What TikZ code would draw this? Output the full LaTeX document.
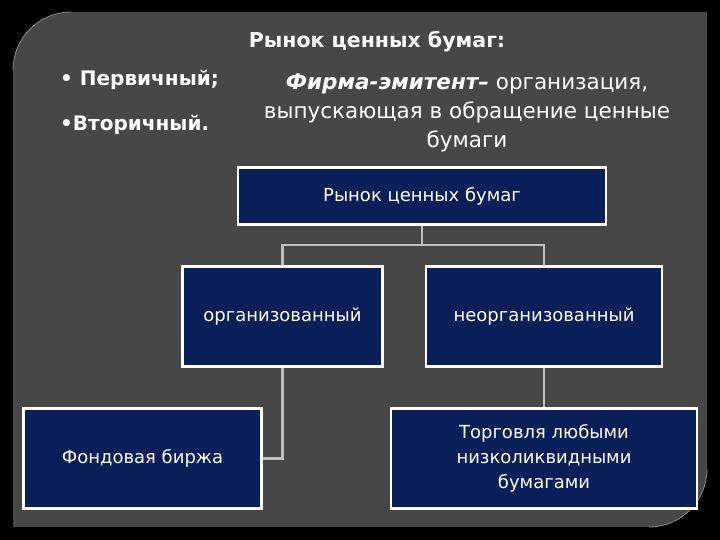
\documentclass[tikz,border=0pt]{standalone}
\usepackage{fontspec}
\setmainfont{DejaVu Sans}
\definecolor{panelgrey}{HTML}{474747}
\definecolor{navy}{HTML}{0A1E5A}
\definecolor{linkgrey}{HTML}{C0C0C0}
\definecolor{edgegrey}{HTML}{8A8A8A}

\begin{document}
\begin{tikzpicture}[
  x=1pt, y=1pt,
  box/.style={draw=white, line width=2.5pt, fill=navy, text=white, align=center, inner sep=0pt, font=\fontsize{18}{25}\selectfont},
  lab/.style={text=white, align=center, inner sep=0pt},
  link/.style={draw=linkgrey, line width=2.5pt}
]
\fill[black] (0,0) rectangle (720,540);
\fill[panelgrey] (13,13) -- (13,470) arc[start angle=180, end angle=90, radius=58] -- (707,528) -- (707,71) arc[start angle=0, end angle=-90, radius=58] -- cycle;
\draw[edgegrey, line width=0.8pt] (13,470) arc[start angle=180, end angle=90, radius=58];
\draw[edgegrey, line width=0.8pt] (707,71) arc[start angle=0, end angle=-90, radius=58];

\node[lab, font=\bfseries\fontsize{20.5}{24}\selectfont] (title) at (377,498) {Рынок ценных бумаг:};
\node[lab, anchor=west, font=\bfseries\fontsize{20}{24}\selectfont] (prim) at (60,460) {• Первичный;};
\node[lab, anchor=west, font=\bfseries\fontsize{20}{24}\selectfont] (sec) at (60,415) {•Вторичный.};
\node[lab, font=\fontsize{21.5}{29}\selectfont] (issuer) at (467,427) {{\bfseries\itshape Фирма-эмитент–} организация,\\ выпускающая в обращение ценные\\ бумаги};

\node[box, minimum width=368pt, minimum height=57pt] (mkt) at (422,344) {Рынок ценных бумаг};
\node[box, minimum width=200pt, minimum height=100pt] (org) at (282.5,223.5) {организованный};
\node[box, minimum width=236pt, minimum height=100pt] (unorg) at (544,223.5) {неорганизованный};
\node[box, minimum width=238pt, minimum height=100pt] (exch) at (142.5,81.5) {Фондовая биржа};
\node[box, minimum width=306pt, minimum height=100pt] (trade) at (544,81.5) {Торговля любыми\\ низколиквидными\\ бумагами};

\coordinate (split) at (422,295);
\draw[link] (mkt.south) -- (split);
\draw[link] (split) -| (org.north);
\draw[link] (split) -| (unorg.north);
\draw[link] (org.south) |- (exch.east);
\draw[link] (unorg.south) -- (trade.north);
\end{tikzpicture}
\end{document}
